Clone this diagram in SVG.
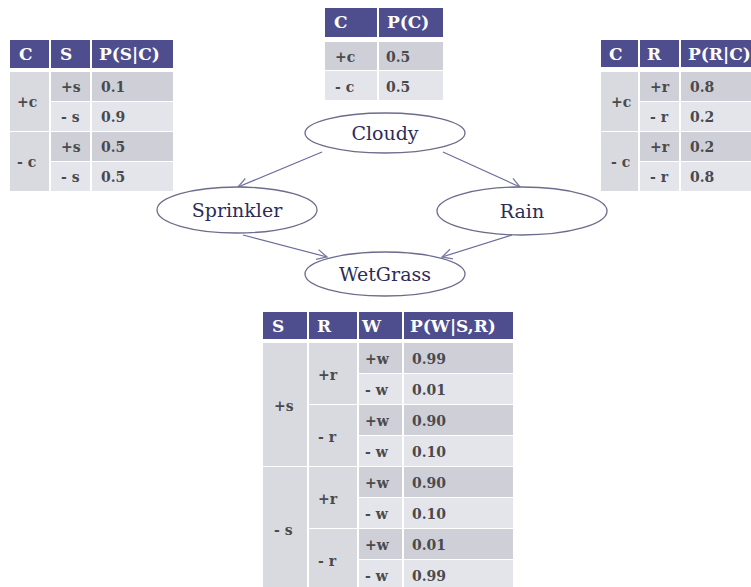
<svg xmlns="http://www.w3.org/2000/svg" width="751" height="587" viewBox="0 0 751 587">
  <style>
    .hd { fill: #4e4e8e; }
    .dk { fill: #cfd0d7; }
    .lt { fill: #e4e5ea; }
    .md { fill: #d9dae0; }
    .ht { font-family: "DejaVu Serif", serif; font-weight: bold; font-size: 17px; fill: #ffffff; }
    .dt { font-family: "DejaVu Serif", serif; font-weight: bold; font-size: 14px; fill: #4a4a4e; }
    .node ellipse { fill: #ffffff; stroke: #6c6c8c; stroke-width: 1.3; }
    .node text { font-family: "DejaVu Serif", serif; font-size: 19px; fill: #2c2c5a; text-anchor: middle; }
    .edge { stroke: #6c6c9c; stroke-width: 1.2; fill: none; marker-end: url(#arr); }
  </style>
  <defs>
    <marker id="arr" viewBox="0 0 12 12" refX="11" refY="6" markerWidth="12" markerHeight="12" markerUnits="userSpaceOnUse" orient="auto">
      <path d="M1,1 L11,6 L1,11" fill="none" stroke="#7a7aa6" stroke-width="1.3"/>
    </marker>
  </defs>
  <rect width="751" height="587" fill="#ffffff"/>

  <!-- P(S|C) -->
  <g id="table-sprinkler">
    <rect class="hd" x="10" y="40" width="39" height="28"/>
    <rect class="hd" x="51" y="40" width="39" height="28"/>
    <rect class="hd" x="92" y="40" width="81" height="28"/>
    <text class="ht" x="19" y="60">C</text>
    <text class="ht" x="60" y="60">S</text>
    <text class="ht" x="99" y="60">P(S|C)</text>
    <rect class="md" x="10" y="72" width="39" height="59"/>
    <rect class="md" x="10" y="132" width="39" height="59"/>
    <rect class="dk" x="51" y="72" width="39" height="29"/>
    <rect class="dk" x="92" y="72" width="81" height="29"/>
    <rect class="lt" x="51" y="102" width="39" height="29"/>
    <rect class="lt" x="92" y="102" width="81" height="29"/>
    <rect class="dk" x="51" y="132" width="39" height="29"/>
    <rect class="dk" x="92" y="132" width="81" height="29"/>
    <rect class="lt" x="51" y="162" width="39" height="29"/>
    <rect class="lt" x="92" y="162" width="81" height="29"/>
    <text class="dt" x="17" y="107">+c</text>
    <text class="dt" x="17" y="167">- c</text>
    <text class="dt" x="61" y="92">+s</text>
    <text class="dt" x="61" y="122">- s</text>
    <text class="dt" x="61" y="152">+s</text>
    <text class="dt" x="61" y="182">- s</text>
    <text class="dt" x="101" y="92">0.1</text>
    <text class="dt" x="101" y="122">0.9</text>
    <text class="dt" x="101" y="152">0.5</text>
    <text class="dt" x="101" y="182">0.5</text>
  </g>

  <!-- P(C) -->
  <g id="table-cloudy">
    <rect class="hd" x="325" y="8" width="52" height="29"/>
    <rect class="hd" x="379" y="8" width="64" height="29"/>
    <text class="ht" x="334" y="28">C</text>
    <text class="ht" x="387" y="28">P(C)</text>
    <rect class="dk" x="325" y="42" width="52" height="28"/>
    <rect class="dk" x="379" y="42" width="64" height="28"/>
    <rect class="lt" x="325" y="71" width="52" height="29"/>
    <rect class="lt" x="379" y="71" width="64" height="29"/>
    <text class="dt" x="335" y="62">+c</text>
    <text class="dt" x="335" y="92">- c</text>
    <text class="dt" x="386" y="62">0.5</text>
    <text class="dt" x="386" y="92">0.5</text>
  </g>

  <!-- P(R|C) -->
  <g id="table-rain">
    <rect class="hd" x="601" y="40" width="37" height="27"/>
    <rect class="hd" x="640" y="40" width="39" height="27"/>
    <rect class="hd" x="681" y="40" width="70" height="27"/>
    <text class="ht" x="609" y="60">C</text>
    <text class="ht" x="647" y="60">R</text>
    <text class="ht" x="688" y="60">P(R|C)</text>
    <rect class="md" x="601" y="72" width="37" height="59"/>
    <rect class="md" x="601" y="132" width="37" height="59"/>
    <rect class="dk" x="640" y="72" width="39" height="29"/>
    <rect class="dk" x="681" y="72" width="70" height="29"/>
    <rect class="lt" x="640" y="102" width="39" height="29"/>
    <rect class="lt" x="681" y="102" width="70" height="29"/>
    <rect class="dk" x="640" y="132" width="39" height="29"/>
    <rect class="dk" x="681" y="132" width="70" height="29"/>
    <rect class="lt" x="640" y="162" width="39" height="29"/>
    <rect class="lt" x="681" y="162" width="70" height="29"/>
    <text class="dt" x="611" y="107">+c</text>
    <text class="dt" x="611" y="167">- c</text>
    <text class="dt" x="650" y="92">+r</text>
    <text class="dt" x="650" y="122">- r</text>
    <text class="dt" x="650" y="152">+r</text>
    <text class="dt" x="650" y="182">- r</text>
    <text class="dt" x="690" y="92">0.8</text>
    <text class="dt" x="690" y="122">0.2</text>
    <text class="dt" x="690" y="152">0.2</text>
    <text class="dt" x="690" y="182">0.8</text>
  </g>

  <!-- connectors -->
  <g id="edges">
    <line class="edge" x1="322" y1="152" x2="238" y2="187"/>
    <line class="edge" x1="443" y1="152" x2="520" y2="187"/>
    <line class="edge" x1="243" y1="235" x2="327" y2="257"/>
    <line class="edge" x1="512" y1="235" x2="442" y2="257"/>
  </g>

  <g id="cloudy" class="node">
    <ellipse cx="385" cy="133" rx="80" ry="20"/>
    <text x="385" y="140">Cloudy</text>
  </g>
  <g id="sprinkler" class="node">
    <ellipse cx="237" cy="210" rx="80" ry="23"/>
    <text x="237" y="217">Sprinkler</text>
  </g>
  <g id="rain" class="node">
    <ellipse cx="522" cy="211" rx="85" ry="24"/>
    <text x="522" y="218">Rain</text>
  </g>
  <g id="wetgrass" class="node">
    <ellipse cx="385" cy="274" rx="80" ry="22"/>
    <text x="385" y="281">WetGrass</text>
  </g>

  <!-- P(W|S,R) -->
  <g id="table-wetgrass">
    <rect class="hd" x="263" y="312" width="44" height="27"/>
    <rect class="hd" x="309" y="312" width="48" height="27"/>
    <rect class="hd" x="359" y="312" width="43" height="27"/>
    <rect class="hd" x="404" y="312" width="109" height="27"/>
    <text class="ht" x="272" y="332">S</text>
    <text class="ht" x="317" y="332">R</text>
    <text class="ht" x="362" y="332">W</text>
    <text class="ht" x="410" y="332">P(W|S,R)</text>

    <rect class="md" x="263" y="343" width="44" height="123"/>
    <rect class="md" x="263" y="467" width="44" height="123"/>
    <rect class="md" x="309" y="343" width="48" height="61"/>
    <rect class="md" x="309" y="405" width="48" height="61"/>
    <rect class="md" x="309" y="467" width="48" height="61"/>
    <rect class="md" x="309" y="529" width="48" height="61"/>

    <rect class="dk" x="359" y="343" width="43" height="30"/>
    <rect class="dk" x="404" y="343" width="109" height="30"/>
    <rect class="lt" x="359" y="374" width="43" height="30"/>
    <rect class="lt" x="404" y="374" width="109" height="30"/>
    <rect class="dk" x="359" y="405" width="43" height="30"/>
    <rect class="dk" x="404" y="405" width="109" height="30"/>
    <rect class="lt" x="359" y="436" width="43" height="30"/>
    <rect class="lt" x="404" y="436" width="109" height="30"/>
    <rect class="dk" x="359" y="467" width="43" height="30"/>
    <rect class="dk" x="404" y="467" width="109" height="30"/>
    <rect class="lt" x="359" y="498" width="43" height="30"/>
    <rect class="lt" x="404" y="498" width="109" height="30"/>
    <rect class="dk" x="359" y="529" width="43" height="30"/>
    <rect class="dk" x="404" y="529" width="109" height="30"/>
    <rect class="lt" x="359" y="560" width="43" height="30"/>
    <rect class="lt" x="404" y="560" width="109" height="30"/>

    <text class="dt" x="274" y="411">+s</text>
    <text class="dt" x="274" y="535">- s</text>
    <text class="dt" x="318" y="380">+r</text>
    <text class="dt" x="318" y="442">- r</text>
    <text class="dt" x="318" y="504">+r</text>
    <text class="dt" x="318" y="566">- r</text>

    <text class="dt" x="365" y="364">+w</text>
    <text class="dt" x="365" y="395">- w</text>
    <text class="dt" x="365" y="426">+w</text>
    <text class="dt" x="365" y="457">- w</text>
    <text class="dt" x="365" y="488">+w</text>
    <text class="dt" x="365" y="519">- w</text>
    <text class="dt" x="365" y="550">+w</text>
    <text class="dt" x="365" y="581">- w</text>

    <text class="dt" x="412" y="364">0.99</text>
    <text class="dt" x="412" y="395">0.01</text>
    <text class="dt" x="412" y="426">0.90</text>
    <text class="dt" x="412" y="457">0.10</text>
    <text class="dt" x="412" y="488">0.90</text>
    <text class="dt" x="412" y="519">0.10</text>
    <text class="dt" x="412" y="550">0.01</text>
    <text class="dt" x="412" y="581">0.99</text>
  </g>
</svg>
